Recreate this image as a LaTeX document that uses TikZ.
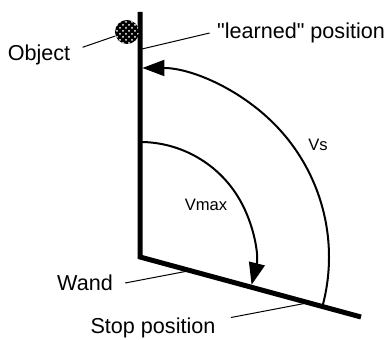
\documentclass[tikz,border=0pt]{standalone}
\usepackage{fontspec}
\setmainfont{Liberation Sans}
\usetikzlibrary{arrows.meta, patterns, positioning}

\begin{document}
\begin{tikzpicture}[
    x=0.5pt, y=0.5pt,
    >={Triangle[length=11pt, width=8pt]},
    wand/.style={line width=2.5pt, line join=miter},
    sweep/.style={->, line width=1pt},
    leader/.style={line width=0.5pt},
    lbl/.style={font=\fontsize{10.8}{13}\selectfont, inner xsep=6pt, inner ysep=0pt},
    speed/.style={font=\fontsize{8.3}{10}\selectfont, inner sep=0pt}
]
\useasboundingbox (0,0) rectangle (389,340);

% --- wand: learned position and stop position ---
\coordinate (top) at (140,328);
\coordinate (pivot) at (140,83);
\coordinate (stop) at (361,23);
\draw[wand] (top) -- (pivot) -- (stop);

% --- object ---
\node[circle, fill=black, minimum size=12pt, inner sep=0pt,
      postaction={pattern=crosshatch dots, pattern color=white}] (obj) at (127,308) {};

% --- sweeps ---
\draw[sweep, shorten >=1.2pt] ([shift={(-15.2:189)}]pivot) arc[start angle=-15.2, end angle=90, radius=189];
\draw[sweep] ([shift={(90:115)}]pivot) arc[start angle=90, end angle=-14, radius=115];
\node[speed] (vs) at (318,195) {Vs};
\node[speed] (vmax) at (206,135) {Vmax};

% --- labels ---
\node[lbl] (objlbl) at (39,285) {Object};
\node[lbl, inner xsep=3.5pt] (learnlbl) at (301,307) {\textquotedbl learned\textquotedbl{} position};
\node[lbl] (wandlbl) at (85,57) {Wand};
\node[lbl, inner xsep=7.5pt] (stoplbl) at (153,12) {Stop position};

\coordinate (learnpt) at (142,291);
\coordinate (wandpt) at (188,69);
\coordinate (stoppt) at (307,37);

\draw[leader] (objlbl.10) -- (obj);
\draw[leader] (learnlbl.west) -- (learnpt);
\draw[leader] (wandlbl.east) -- (wandpt);
\draw[leader] (stoplbl.north east) -- (stoppt);

\end{tikzpicture}
\end{document}
